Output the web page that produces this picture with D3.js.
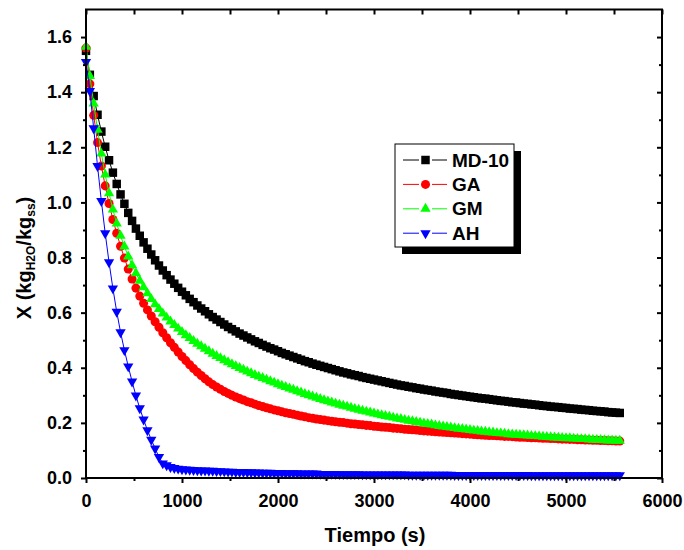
<!DOCTYPE html>
<html><head><meta charset="utf-8">
<script src="https://cdn.jsdelivr.net/npm/d3@7"></script>
<style>
body{margin:0;background:#fff}
svg text{font-family:"Liberation Sans",Arial,sans-serif;font-weight:bold;fill:#000}
</style>
</head><body>
<svg id="chart" width="684" height="550"></svg>
<script>
// ---- data ----
const time = [0,40,80,120,160,200,240,280,320,360,400,440,480,520,560,600,640,680,720,760,800,840,880,920,960,1000,
1040,1080,1120,1160,1200,1240,1280,1320,1360,1400,1440,1480,1520,1560,1600,1640,1680,1720,1760,1800,1840,1880,1920,1960,2000,
2040,2080,2120,2160,2200,2240,2280,2320,2360,2400,
2440,2480,2520,2560,2600,2640,2680,2720,2760,2800,
2840,2880,2920,2960,3000,3040,3080,3120,3160,3200,
3240,3280,3320,3360,3400,3440,3480,3520,3560,3600,
3640,3680,3720,3760,3800,3840,3880,3920,3960,4000,
4040,4080,4120,4160,4200,4240,4280,4320,4360,4400,
4440,4480,4520,4560,4600,4640,4680,4720,4760,4800,
4840,4880,4920,4960,5000,5040,5080,5120,5160,5200,
5240,5280,5320,5360,5400,5440,5480,5520,5560];

const md10 = [1.550,1.463,1.386,1.318,1.257,1.202,1.153,1.108,1.067,1.029,0.995,0.962,0.933,0.905,0.879,0.855,0.832,0.811,0.790,0.771,0.753,0.736,0.720,0.705,0.690,0.676,
0.663,0.650,0.638,0.626,0.615,0.605,0.594,0.584,0.575,0.566,0.557,0.548,0.540,0.532,0.524,0.517,0.510,0.503,0.496,0.490,0.483,0.477,0.471,0.466,0.460,
0.454,0.449,0.444,0.439,0.434,0.429,0.424,0.420,0.415,0.411,
0.407,0.403,0.399,0.395,0.391,0.387,0.383,0.380,0.376,0.373,
0.370,0.366,0.363,0.360,0.357,0.354,0.351,0.348,0.345,0.342,
0.339,0.336,0.334,0.331,0.329,0.326,0.324,0.321,0.319,0.317,
0.314,0.312,0.310,0.308,0.305,0.303,0.301,0.299,0.297,0.295,
0.293,0.291,0.289,0.288,0.286,0.284,0.282,0.280,0.279,0.277,
0.275,0.274,0.272,0.270,0.269,0.267,0.266,0.264,0.262,0.261,
0.259,0.258,0.257,0.255,0.254,0.252,0.251,0.250,0.248,0.247,
0.246,0.244,0.243,0.242,0.241,0.239,0.238,0.237,0.236];

const ga = [1.560,1.430,1.316,1.217,1.132,1.060,0.996,0.938,0.888,0.841,0.798,0.758,0.722,0.689,0.660,0.634,0.610,0.588,0.567,0.547,0.527,0.509,0.491,0.474,0.457,0.441,
0.426,0.411,0.397,0.384,0.372,0.360,0.349,0.339,0.330,0.322,0.314,0.307,0.300,0.294,0.288,0.283,0.277,0.273,0.268,0.263,0.259,0.255,0.251,0.247,0.244,
0.240,0.237,0.234,0.231,0.228,0.225,0.222,0.219,0.217,0.214,
0.212,0.210,0.208,0.206,0.204,0.202,0.201,0.199,0.197,0.196,
0.194,0.193,0.191,0.190,0.188,0.187,0.185,0.184,0.183,0.181,
0.180,0.179,0.177,0.176,0.175,0.174,0.172,0.171,0.170,0.169,
0.168,0.167,0.166,0.165,0.164,0.163,0.162,0.161,0.160,0.159,
0.158,0.157,0.156,0.155,0.154,0.154,0.153,0.152,0.151,0.151,
0.150,0.149,0.148,0.148,0.147,0.146,0.146,0.145,0.144,0.144,
0.143,0.143,0.142,0.141,0.141,0.140,0.140,0.139,0.139,0.138,
0.138,0.137,0.137,0.136,0.136,0.135,0.135,0.134,0.134];

const gm = [1.565,1.459,1.359,1.264,1.177,1.101,1.033,0.974,0.923,0.879,0.840,0.804,0.772,0.743,0.716,0.692,0.670,0.649,0.630,0.613,0.597,0.582,0.568,0.555,0.542,0.530,
0.518,0.508,0.497,0.487,0.478,0.469,0.460,0.451,0.443,0.435,0.427,0.420,0.413,0.406,0.399,0.393,0.386,0.380,0.374,0.368,0.363,0.357,0.351,0.346,0.340,
0.335,0.330,0.325,0.320,0.315,0.310,0.305,0.300,0.296,0.291,
0.287,0.282,0.278,0.274,0.270,0.266,0.262,0.259,0.255,0.251,
0.248,0.244,0.241,0.238,0.234,0.231,0.228,0.225,0.222,0.219,
0.216,0.214,0.211,0.208,0.206,0.203,0.201,0.198,0.196,0.194,
0.191,0.189,0.187,0.185,0.183,0.181,0.179,0.178,0.176,0.174,
0.172,0.171,0.169,0.168,0.166,0.165,0.163,0.162,0.161,0.159,
0.158,0.157,0.156,0.155,0.154,0.153,0.152,0.151,0.150,0.149,
0.148,0.147,0.146,0.145,0.144,0.144,0.143,0.142,0.141,0.141,
0.140,0.139,0.138,0.138,0.137,0.136,0.136,0.135,0.135];

const ah = [1.510,1.404,1.269,1.132,1.005,0.888,0.783,0.688,0.603,0.529,0.464,0.405,0.350,0.299,0.253,0.212,0.173,0.139,0.107,0.076,0.053,0.046,0.040,0.036,0.034,0.032,
0.031,0.030,0.029,0.028,0.027,0.027,0.026,0.026,0.025,0.025,0.024,0.023,0.023,0.022,0.022,0.022,0.021,0.021,0.020,0.020,0.019,0.019,0.019,0.018,0.018,
0.018,0.017,0.017,0.017,0.017,0.016,0.016,0.016,0.016,0.016,
0.015,0.015,0.015,0.015,0.015,0.014,0.014,0.014,0.014,0.014,
0.014,0.013,0.013,0.013,0.013,0.013,0.013,0.013,0.013,0.013,
0.013,0.013,0.013,0.012,0.012,0.012,0.012,0.012,0.012,0.012,
0.012,0.012,0.012,0.012,0.012,0.011,0.011,0.011,0.011,0.011,
0.011,0.011,0.011,0.011,0.011,0.011,0.011,0.011,0.011,0.011,
0.011,0.011,0.011,0.011,0.011,0.010,0.010,0.010,0.010,0.010,
0.010,0.010,0.010,0.010,0.010,0.010,0.010,0.010,0.010,0.010,
0.010,0.010,0.010,0.010,0.010,0.010,0.010,0.010,0.010];

const seriesNames = ["MD-10","GA","GM","AH"];
const xTicks = [0,1000,2000,3000,4000,5000,6000];
const xMinorTicks = [500,1500,2500,3500,4500,5500];
const yTicks = [0.0,0.2,0.4,0.6,0.8,1.0,1.2,1.4,1.6];
const yMinorTicks = [0.1,0.3,0.5,0.7,0.9,1.1,1.3,1.5];
const xTitle = "Tiempo (s)";

// ---- styles ----
const styles = [
  {color:"#000000", symbol:d3.symbolSquare,   size:72, rot:0},
  {color:"#ff0000", symbol:d3.symbolCircle,   size:64, rot:0},
  {color:"#00ff00", symbol:d3.symbolTriangle, size:46, rot:0},
  {color:"#0000ff", symbol:d3.symbolTriangle, size:46, rot:180}
];
const seriesValues = [md10, ga, gm, ah];

const svg = d3.select("#chart");
const x = d3.scaleLinear().domain([0,6000]).range([86,662]);
const y = d3.scaleLinear().domain([0,1.7]).range([478,9.5]);

// ---- data ----
const line = d3.line().x((d,i)=>x(time[i])).y(d=>y(d));
seriesValues.forEach((vals,si)=>{
  const st = styles[si];
  const g = svg.append("g");
  g.append("path").attr("d", line(vals)).attr("fill","none")
    .attr("stroke", st.color).attr("stroke-width",1);
  const sym = d3.symbol().type(st.symbol).size(st.size);
  g.selectAll("path.m").data(vals).join("path").attr("class","m")
    .attr("d", sym)
    .attr("transform",(d,i)=>`translate(${x(time[i])},${y(d)}) rotate(${st.rot})`)
    .attr("fill", st.color);
});

// ---- frame ----
svg.append("rect").attr("x",x(0)).attr("y",y(1.7))
  .attr("width",x(6000)-x(0)).attr("height",y(0)-y(1.7))
  .attr("fill","none").attr("stroke","#000").attr("stroke-width",2);

function styleAxis(g){
  g.select(".domain").remove();
  g.selectAll(".tick line").attr("stroke","#000").attr("stroke-width",2);
  g.attr("font-size",18).attr("font-family","Liberation Sans, Arial, sans-serif").attr("font-weight","bold");
}
// bottom
svg.append("g").attr("transform",`translate(0,${y(0)})`)
  .call(d3.axisBottom(x).tickValues(xTicks).tickSize(5).tickSizeOuter(0).tickPadding(11).tickFormat(d3.format("d")))
  .call(styleAxis);
svg.append("g").attr("transform",`translate(0,${y(0)})`)
  .call(d3.axisBottom(x).tickValues(xMinorTicks).tickSize(3).tickSizeOuter(0).tickFormat(""))
  .call(styleAxis);
// top
svg.append("g").attr("transform",`translate(0,${y(1.7)})`)
  .call(d3.axisTop(x).tickValues(xTicks.concat(xMinorTicks)).tickSize(-5).tickSizeOuter(0).tickFormat(""))
  .call(styleAxis);
// left
svg.append("g").attr("transform",`translate(${x(0)},0)`)
  .call(d3.axisLeft(y).tickValues(yTicks).tickSize(5).tickSizeOuter(0).tickPadding(9).tickFormat(d3.format(".1f")))
  .call(styleAxis);
svg.append("g").attr("transform",`translate(${x(0)},0)`)
  .call(d3.axisLeft(y).tickValues(yMinorTicks).tickSize(3).tickSizeOuter(0).tickFormat(""))
  .call(styleAxis);
// right
svg.append("g").attr("transform",`translate(${x(6000)},0)`)
  .call(d3.axisRight(y).tickValues(yTicks).tickSize(-5).tickSizeOuter(0).tickFormat(""))
  .call(styleAxis);
svg.append("g").attr("transform",`translate(${x(6000)},0)`)
  .call(d3.axisRight(y).tickValues(yMinorTicks).tickSize(-3).tickSizeOuter(0).tickFormat(""))
  .call(styleAxis);

// ---- axis titles ----
svg.append("text").attr("x",375).attr("y",541.5).attr("text-anchor","middle")
  .attr("font-size",20).text(xTitle);

const yt = svg.append("text").attr("transform","translate(31,258) rotate(-90)")
  .attr("text-anchor","middle").attr("font-size",20);
yt.append("tspan").text("X (kg");
yt.append("tspan").attr("font-size",12).attr("dy",4).text("H2O");
yt.append("tspan").attr("dy",-4).text("/kg");
yt.append("tspan").attr("font-size",12).attr("dy",4).text("ss");
yt.append("tspan").attr("dy",-4).text(")");

// ---- legend ----
const lg = svg.append("g");
lg.append("rect").attr("x",402).attr("y",151).attr("width",119).attr("height",103).attr("fill","#000");
lg.append("rect").attr("x",395).attr("y",144).attr("width",119).attr("height",103)
  .attr("fill","#fff").attr("stroke","#000").attr("stroke-width",1);
seriesNames.forEach((name,i)=>{
  const st = styles[i];
  const cy = 160 + i*24.4;
  lg.append("line").attr("x1",403).attr("x2",419).attr("y1",cy).attr("y2",cy).attr("stroke",st.color).attr("stroke-width",1);
  lg.append("line").attr("x1",432).attr("x2",447).attr("y1",cy).attr("y2",cy).attr("stroke",st.color).attr("stroke-width",1);
  lg.append("path").attr("d", d3.symbol().type(st.symbol).size(st.size))
    .attr("transform",`translate(425.5,${cy}) rotate(${st.rot})`).attr("fill",st.color);
  lg.append("text").attr("x",452).attr("y",cy+6.6).attr("font-size",19).text(name);
});
</script>
</body></html>
